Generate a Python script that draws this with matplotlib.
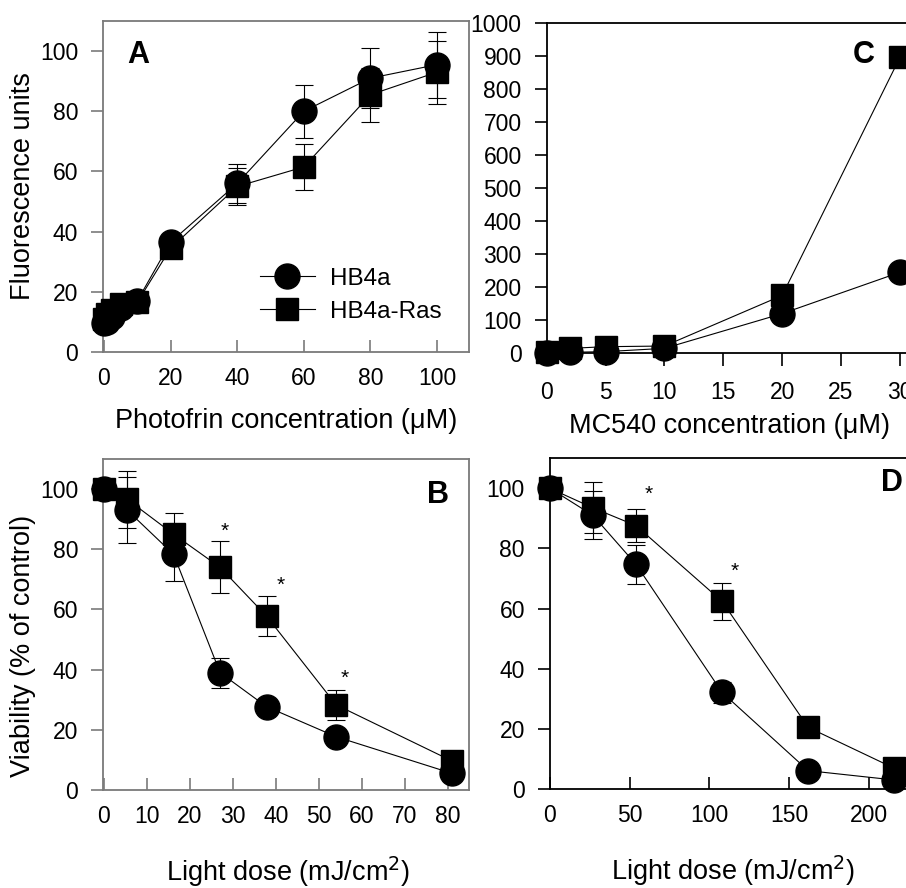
import numpy as np
import matplotlib.pyplot as plt

plt.rcParams["font.family"] = ["Liberation Sans", "DejaVu Sans"]

# A - Photofrin
photofrin_x = [0, 1, 2.5, 5, 10, 20, 40, 60, 80, 100]
a_hb4a = [9.5, 10, 11.5, 14.5, 17, 36.5, 56, 80, 91, 95.5]
a_hb4a_err = [0, 0, 0, 0, 0, 0, 6.5, 8.8, 10, 11]
a_ras = [11, 12.5, 14, 16, 16.5, 34.5, 55, 61.5, 85.5, 93]
a_ras_err = [0, 0, 0, 0, 0, 0, 6, 7.5, 9, 10.5]

# C - MC540
mc540_x = [0, 2, 5, 10, 20, 30]
c_hb4a = [0, 3, 5, 15, 120, 245]
c_ras = [5, 15, 20, 22, 175, 895]

# B - light dose (Photofrin)
b_dose = [0, 5.4, 16.2, 27, 37.8, 54, 81]
b_hb4a = [100, 93, 78.3, 39, 27.7, 17.7, 5.5]
b_hb4a_err = [0, 11, 9, 5, 0, 0, 0]
b_ras = [100, 96.6, 85, 74, 57.8, 28.3, 9.6]
b_ras_err = [0, 9.5, 7.2, 8.6, 6.7, 5, 0]
b_star_x = [28, 41, 56]
b_star_y = [86, 68, 37]

# D - light dose (MC540)
d_dose = [0, 27, 54, 108, 162, 216]
d_hb4a = [100, 91, 74.7, 32.1, 6.1, 3]
d_hb4a_err = [0, 8, 6.5, 3.5, 0, 0]
d_ras = [100, 93.5, 87.6, 62.4, 20.5, 6.9]
d_ras_err = [0, 8.5, 5.5, 6.1, 0, 0]
d_star_x = [62, 116]
d_star_y = [98, 72.5]

W, H = 906, 888
fig = plt.figure(figsize=(W / 100, H / 100), dpi=100)


def make_axes(left, top, right, bottom):
    return fig.add_axes([left / W, (H - bottom) / H, (right - left) / W, (bottom - top) / H])


gray = "#7a7a7a"


def style(ax, col, xdir):
    for s in ax.spines.values():
        s.set_color(col)
        s.set_linewidth(1.3)
    ax.tick_params(axis="y", direction="out", length=9, width=1.2, color=col, labelsize=16.5, pad=9)
    ax.tick_params(axis="x", direction=xdir, length=9, width=1.2, color=col, labelsize=16.5, pad=11)


def draw(ax, x, y1, y2, e1=None, e2=None):
    if e1 is not None:
        ax.errorbar(x, y1, yerr=e1, fmt="none", ecolor="black", elinewidth=0.8, capsize=6.5, capthick=0.8, clip_on=False)
        ax.errorbar(x, y2, yerr=e2, fmt="none", ecolor="black", elinewidth=0.8, capsize=6.5, capthick=0.8, clip_on=False)
    ax.plot(x, y2, marker="s", ms=15.8, color="black", lw=0.8, clip_on=False, label="HB4a-Ras", zorder=3)
    ax.plot(x, y1, marker="o", ms=18, color="black", lw=0.8, clip_on=False, label="HB4a", zorder=4)


def xlabel_at(ax, text, x, y):
    ax.set_xlabel(text, fontsize=19.5)
    ax.xaxis.set_label_coords(x, y)
    ax.xaxis.label.set_va("baseline")


def ylabel_at(ax, text, x, y):
    ax.set_ylabel(text, fontsize=19.5)
    ax.yaxis.set_label_coords(x, y)
    ax.yaxis.label.set_va("center")


# Panel A
axA = make_axes(103, 21, 469, 352)
draw(axA, photofrin_x, a_hb4a, a_ras, a_hb4a_err, a_ras_err)
axA.set_xlim(-0.3, 109.6)
axA.set_ylim(0, 110)
axA.set_xticks([0, 20, 40, 60, 80, 100])
axA.set_yticks([0, 20, 40, 60, 80, 100])
style(axA, gray, "in")
ylabel_at(axA, "Fluorescence units", -0.219, 0.5)
xlabel_at(axA, "Photofrin concentration (\u03bcM)", 0.5, -0.23)
axA.text(0.096, 0.897, "A", transform=axA.transAxes, fontsize=22, fontweight="bold", ha="center", va="center")
h, l = axA.get_legend_handles_labels()
axA.legend(h[::-1], l[::-1], loc="upper left", bbox_to_anchor=(0.43, 0.255), frameon=False, fontsize=17.5,
           handlelength=2.23, handletextpad=0.63, labelspacing=0.45, borderpad=0, borderaxespad=0)

# Panel C
axC = make_axes(546.7, 22.7, 911.7, 353.3)
draw(axC, mc540_x, c_hb4a, c_ras)
axC.set_xlim(0, 31)
axC.set_ylim(0, 1000)
axC.set_xticks([0, 5, 10, 15, 20, 25, 30])
axC.set_yticks(np.arange(0, 1001, 100))
style(axC, "black", "out")
xlabel_at(axC, "MC540 concentration (\u03bcM)", 0.5, -0.241)
axC.text(0.869, 0.902, "C", transform=axC.transAxes, fontsize=22, fontweight="bold", ha="center", va="center")

# Panel B
axB = make_axes(103, 459, 469, 790)
draw(axB, b_dose, b_hb4a, b_ras, b_hb4a_err, b_ras_err)
for sx, sy in zip(b_star_x, b_star_y):
    axB.text(sx, sy, "*", fontsize=15, ha="center", va="center")
axB.set_xlim(-0.23, 84.9)
axB.set_ylim(0, 110)
axB.set_xticks(np.arange(0, 81, 10))
axB.set_yticks([0, 20, 40, 60, 80, 100])
style(axB, gray, "in")
ylabel_at(axB, "Viability (% of control)", -0.219, 0.435)
xlabel_at(axB, "Light dose (mJ/cm$^2$)", 0.505, -0.274)
axB.text(0.915, 0.891, "B", transform=axB.transAxes, fontsize=22, fontweight="bold", ha="center", va="center")

# Panel D
axD = make_axes(550, 458.3, 915, 789)
draw(axD, d_dose, d_hb4a, d_ras, d_hb4a_err, d_ras_err)
for sx, sy in zip(d_star_x, d_star_y):
    axD.text(sx, sy, "*", fontsize=15, ha="center", va="center")
axD.set_xlim(0, 229)
axD.set_ylim(0, 110)
axD.set_xticks([0, 50, 100, 150, 200])
axD.set_yticks([0, 20, 40, 60, 80, 100])
style(axD, "black", "in")
xlabel_at(axD, "Light dose (mJ/cm$^2$)", 0.502, -0.275)
axD.text(0.937, 0.925, "D", transform=axD.transAxes, fontsize=22, fontweight="bold", ha="center", va="center")

fig.savefig("out.png", dpi=100)
